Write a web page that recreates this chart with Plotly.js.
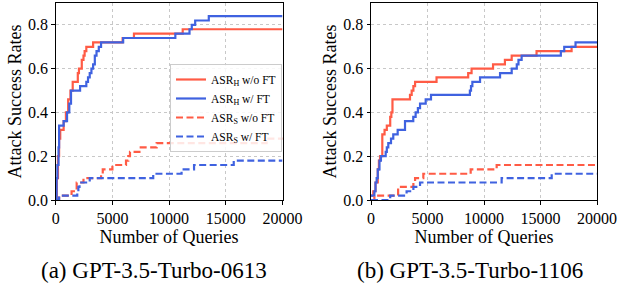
<!DOCTYPE html>
<html>
<head>
<meta charset="utf-8">
<script src="https://cdn.plot.ly/plotly-3.0.1.min.js"></script>
<style>html,body{margin:0;padding:0;background:#fff;}#chart{width:618px;height:294px;}</style>
</head>
<body>
<div id="chart"></div>
<script>
// ---- (a) GPT-3.5-Turbo-0613 ----
const a_hNoFT_x = [0, 100, 200, 300, 400, 700, 900, 1100, 1300, 1500, 1950, 2050, 2300, 2450, 2550, 2700, 3300, 5900, 6900, 11200, 20000];
const a_hNoFT_y = [0, 0.10, 0.20, 0.28, 0.32, 0.36, 0.40, 0.46, 0.50, 0.54, 0.58, 0.60, 0.64, 0.66, 0.68, 0.70, 0.72, 0.74, 0.76, 0.78, 0.78];
const a_hFT_x = [0, 80, 150, 250, 300, 700, 1000, 1200, 1350, 2150, 2700, 2850, 3000, 3150, 3300, 3450, 3600, 3800, 4000, 5950, 10550, 11800, 12000, 12300, 13500, 20000];
const a_hFT_y = [0, 0.10, 0.16, 0.24, 0.34, 0.36, 0.40, 0.44, 0.50, 0.52, 0.54, 0.56, 0.58, 0.60, 0.62, 0.66, 0.68, 0.70, 0.72, 0.74, 0.76, 0.78, 0.80, 0.82, 0.84, 0.84];
const a_sNoFT_x = [0, 300, 1400, 1850, 2450, 4000, 4150, 5000, 6200, 6400, 6550, 7500, 8900, 18600, 20000];
const a_sNoFT_y = [0, 0.02, 0.04, 0.08, 0.10, 0.12, 0.14, 0.16, 0.18, 0.20, 0.22, 0.24, 0.26, 0.28, 0.28];
const a_sFT_x = [0, 300, 1900, 2000, 2100, 3000, 8600, 11100, 12200, 15700, 20000];
const a_sFT_y = [0, 0.02, 0.04, 0.06, 0.08, 0.10, 0.12, 0.14, 0.16, 0.18, 0.18];

// ---- (b) GPT-3.5-Turbo-1106 ----
const b_hNoFT_x = [0, 200, 400, 600, 700, 800, 1000, 1200, 1400, 1700, 1800, 1900, 3450, 3600, 3750, 3900, 5800, 8600, 8900, 10800, 11850, 12450, 14650, 17750, 20000];
const b_hNoFT_y = [0.02, 0.04, 0.08, 0.14, 0.18, 0.20, 0.30, 0.32, 0.34, 0.38, 0.40, 0.46, 0.48, 0.50, 0.52, 0.54, 0.56, 0.58, 0.60, 0.62, 0.64, 0.66, 0.68, 0.70, 0.70];
const b_hFT_x = [0, 300, 400, 500, 600, 750, 880, 1300, 1400, 1530, 1770, 1970, 2360, 3010, 3740, 3950, 4150, 4340, 4840, 5310, 8750, 8850, 8970, 9650, 11420, 12450, 12900, 13050, 13330, 16800, 17100, 18100, 20000];
const b_hFT_y = [0.02, 0.04, 0.08, 0.10, 0.14, 0.18, 0.20, 0.22, 0.24, 0.26, 0.28, 0.30, 0.32, 0.36, 0.38, 0.40, 0.42, 0.44, 0.46, 0.48, 0.50, 0.52, 0.54, 0.56, 0.58, 0.60, 0.62, 0.64, 0.66, 0.68, 0.70, 0.72, 0.72];
const b_sNoFT_x = [0, 300, 2400, 3750, 3900, 4630, 8820, 11120, 20000];
const b_sNoFT_y = [0, 0.02, 0.06, 0.08, 0.10, 0.12, 0.14, 0.16, 0.16];
const b_sFT_x = [0, 1700, 3150, 3750, 4340, 11560, 15990, 20000];
const b_sFT_y = [0, 0.02, 0.04, 0.06, 0.08, 0.10, 0.12, 0.12];

const seriesNames = ["ASR<sub>H</sub> w/o FT", "ASR<sub>H</sub> w/ FT", "ASR<sub>S</sub> w/o FT", "ASR<sub>S</sub> w/ FT"];
const subTitles = ["(a) GPT-3.5-Turbo-0613", "(b) GPT-3.5-Turbo-1106"];
const xTicks = [0, 5000, 10000, 15000, 20000];
const yTicks = [0, 0.2, 0.4, 0.6, 0.8];
const yTickText = ["0.0", "0.2", "0.4", "0.6", "0.8"];

const RED = "#ff5b45", BLUE = "#3f62e0";
const FONT = "Liberation Serif, Times New Roman, serif";

function tr(x, y, name, color, dash, xa, ya, show) {
  return {x: x, y: y, name: name, type: "scatter", mode: "lines",
    line: {shape: "hv", color: color, width: 2.2, dash: dash},
    xaxis: xa, yaxis: ya, showlegend: show};
}
const DASH = "7px,3.5px";
const data = [
  tr(a_hNoFT_x, a_hNoFT_y, seriesNames[0], RED, "solid", "x", "y", true),
  tr(a_hFT_x, a_hFT_y, seriesNames[1], BLUE, "solid", "x", "y", true),
  tr(a_sNoFT_x, a_sNoFT_y, seriesNames[2], RED, DASH, "x", "y", true),
  tr(a_sFT_x, a_sFT_y, seriesNames[3], BLUE, DASH, "x", "y", true),
  tr(b_hNoFT_x, b_hNoFT_y, seriesNames[0], RED, "solid", "x2", "y2", false),
  tr(b_hFT_x, b_hFT_y, seriesNames[1], BLUE, "solid", "x2", "y2", false),
  tr(b_sNoFT_x, b_sNoFT_y, seriesNames[2], RED, DASH, "x2", "y2", false),
  tr(b_sFT_x, b_sFT_y, seriesNames[3], BLUE, DASH, "x2", "y2", false)
];

function xax(domain) {
  return {domain: domain, range: [0, 20000], tickvals: xTicks, ticktext: xTicks.map(String),
    showline: true, mirror: true, linecolor: "#000", linewidth: 1,
    ticks: "outside", ticklen: 3.5, tickwidth: 1, tickcolor: "#000",
    showgrid: true, gridcolor: "#c8c8c8", griddash: "dot", gridwidth: 1, zeroline: false,
    tickfont: {family: FONT, size: 16, color: "#000"},
    title: {text: "Number of Queries", font: {family: FONT, size: 18, color: "#000"}, standoff: 0},
    fixedrange: true};
}
function yax(domain, anchor) {
  return {domain: domain, anchor: anchor, range: [0, 0.9], tickvals: yTicks, ticktext: yTickText,
    showline: true, mirror: true, linecolor: "#000", linewidth: 1,
    ticks: "outside", ticklen: 3.5, tickwidth: 1, tickcolor: "#000",
    showgrid: true, gridcolor: "#c8c8c8", griddash: "dot", gridwidth: 1, zeroline: false,
    tickfont: {family: FONT, size: 16, color: "#000"},
    title: {text: "Attack Success Rates", font: {family: FONT, size: 18, color: "#000"}, standoff: 1},
    fixedrange: true};
}
const yDom = [(294 - 200) / 294, (294 - 3) / 294];
const layout = {
  width: 618, height: 294,
  margin: {l: 0, r: 0, t: 0, b: 0},
  paper_bgcolor: "#fff", plot_bgcolor: "#fff",
  font: {family: FONT, color: "#000"},
  xaxis: Object.assign(xax([55.7 / 618, 282.5 / 618]), {anchor: "y"}),
  yaxis: yax(yDom, "x"),
  xaxis2: Object.assign(xax([371 / 618, 597 / 618]), {anchor: "y2"}),
  yaxis2: yax(yDom, "x2"),
  showlegend: true,
  legend: {x: 170 / 618, y: 1 - 64 / 294, xanchor: "left", yanchor: "top",
    bgcolor: "rgba(255,255,255,0.85)", bordercolor: "#cccccc", borderwidth: 1,
    font: {family: FONT, size: 11.5, color: "#000"}, itemwidth: 30, tracegroupgap: 0},
  annotations: [
    {text: subTitles[0], xref: "paper", yref: "paper", x: 153.5 / 618, y: 1 - 270 / 294,
      xanchor: "center", yanchor: "middle", showarrow: false, font: {family: FONT, size: 23, color: "#000"}},
    {text: subTitles[1], xref: "paper", yref: "paper", x: 470 / 618, y: 1 - 270 / 294,
      xanchor: "center", yanchor: "middle", showarrow: false, font: {family: FONT, size: 23, color: "#000"}}
  ]
};
Plotly.newPlot("chart", data, layout, {displayModeBar: false, staticPlot: true});
</script>
</body>
</html>
